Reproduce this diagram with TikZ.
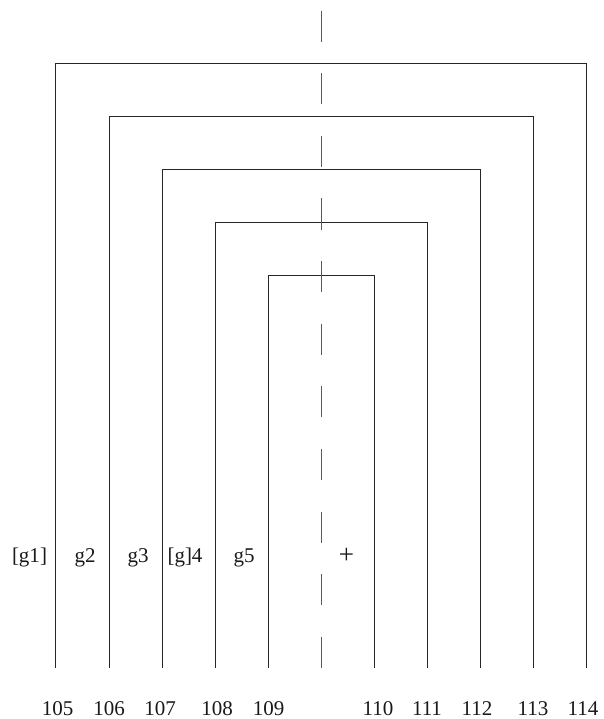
\documentclass[tikz,border=0pt]{standalone}
\usepackage{fontspec}
\setmainfont{Liberation Serif}
\begin{document}
\begin{tikzpicture}[x=1pt,y=-1pt,
  wall/.style={line width=0.9pt,draw=black!85},
  axisline/.style={line width=1pt,draw=black!65,dash pattern=on 31pt off 31.6pt},
  gap/.style={font=\fontsize{21}{25}\selectfont,text=black!90,anchor=base,inner sep=0pt},
  num/.style={font=\fontsize{21}{25}\selectfont,text=black!90,anchor=base,inner sep=0pt}]
\useasboundingbox (0,0) rectangle (604,719);
% nested U-shaped walls: left x, right x, top y
\foreach \l/\r/\t in {55/586/63, 109/533/116, 162/480/169, 215/427/222, 268/374/275}
  \draw[wall] (\l,668) -- (\l,\t) -- (\r,\t) -- (\r,668);
% symmetry axis
\coordinate (axtop) at (321,10.7);
\coordinate (axbot) at (321,668);
\draw[axisline] (axtop) -- (axbot);
% labels between the walls
\node[gap] (l1) at (29.5,562) {[g1]};
\node[gap] (l2) at (85,562) {g2};
\node[gap] (l3) at (138,562) {g3};
\node[gap] (l4) at (185,562) {[g]4};
\node[gap] (l5) at (244,562) {g5};
\node[gap,font=\fontsize{27}{30}\selectfont,anchor=center] (lp) at (346.5,555.5) {+};
% wall numbers
\foreach \x/\n in {57.5/105, 109/106, 160/107, 217/108, 268.5/109, 378/110, 427/111, 477/112, 533/113, 583/114}
  \node[num] (n\n) at (\x,715) {\n};
\end{tikzpicture}
\end{document}
